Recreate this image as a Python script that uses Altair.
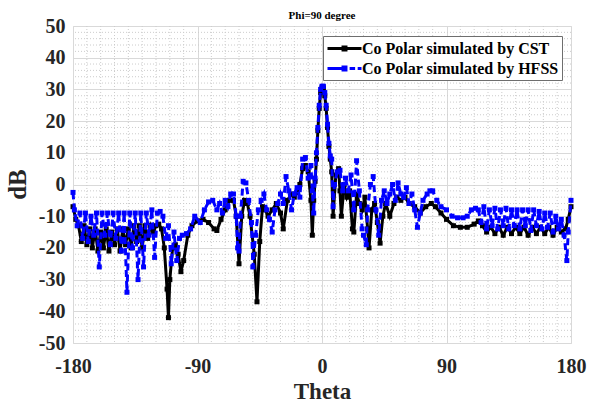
import altair as alt
import pandas as pd

# ---------------- data ----------------
theta_cst = [-180, -178, -176, -174, -172, -170, -168, -166, -164, -162, -160, -158, -156, -154,
             -152, -150, -148, -146, -144, -142, -140, -138, -136, -134, -132, -130, -128, -126,
             -124, -122, -120, -118, -116, -114, -112, -111, -110, -108, -106, -104, -102, -100,
             -97, -94, -90, -86, -82, -78, -76, -73, -70, -67, -64, -62, -60, -58, -56, -54, -52,
             -49, -47, -45, -43, -41, -39, -36, -33, -30, -28, -25, -22, -20, -18, -16, -14, -12,
             -10, -8, -7, -6, -5, -4, -3, -2, -1, 0, 1, 2, 3, 4, 5, 6, 7, 8, 10, 12, 13, 14, 16,
             18, 20, 22, 23, 25, 27, 29, 31, 33, 34, 36, 38, 40, 42, 44, 46, 49, 52, 54, 57, 60,
             63, 67, 71, 75, 79, 82, 86, 90, 95, 100, 105, 110, 113, 116, 119, 122, 125, 128, 131,
             134, 137, 140, 143, 146, 149, 152, 155, 158, 161, 164, 167, 170, 173, 176, 178, 180]
db_cst = [-7, -11, -13, -18, -13, -19, -14, -20, -14, -21, -15, -20, -14, -21,
          -15, -19, -14, -21, -14, -19, -14, -20, -13, -18, -13, -20, -13, -17,
          -13, -15, -13, -12.5, -14, -20, -33, -42, -30, -20, -19, -22, -27.5, -24,
          -16, -13, -11.5, -11, -12, -14, -14.5, -11, -8, -5, -5, -10, -25, -10, -5, -6, -10,
          -22, -37, -18, -7, -8, -10, -8, -6, -9, -14, -5, -3, -4, -2.5, 0, 5, 6,
          4, -5, -16, -5, 1, 8, 17, 24, 29, 30.5, 30.5, 28, 24, 18, 12, 8, 4, -10, 3, 5, -2, -10, 0,
          -4, -2, -14, -15, -3, -6, -8, -4, -14, -20, -8, -6, -12, -18.5, -10, -6, -10, -6, -4, -5, -4,
          -6, -7, -9, -7, -6, -7, -9, -11, -13, -13.5, -13.5, -12.5, -11.5, -13, -15, -13.5, -15.5, -13.5, -16,
          -13.5, -15.5, -13.5, -15.5, -13.5, -16, -13.5, -15.5, -13.5, -15.5, -13.5, -16, -13.5, -15, -14, -11, -7]

theta_hfss = [-180, -179, -177, -175, -173, -171, -169, -167, -165, -163, -161, -159, -157, -155,
              -153, -151, -149, -147, -145, -143, -141, -139, -137, -135, -133, -131, -129, -127,
              -125, -123, -121, -119, -117, -115, -113, -111, -109, -107, -105, -103, -101, -98,
              -95, -92, -88, -85, -82, -79, -76, -74, -72, -70, -68, -66, -64, -62, -61, -60, -59,
              -57, -55, -53, -51, -50, -48, -46, -44, -42, -40, -38, -36, -34, -32, -30, -28, -26,
              -24, -22, -20, -18, -16, -14, -12, -10, -8, -7, -6, -5, -4, -3, -2, -1, 0, 1, 2, 3,
              4, 5, 6, 7, 8, 9, 11, 13, 15, 17, 19, 21, 23, 25, 27, 29, 30, 32, 33, 35, 37, 39, 41,
              43, 45, 47, 49, 51, 53, 55, 57, 59, 61, 63, 65, 67, 69, 71, 73, 76, 78, 80, 83, 86,
              90, 94, 98, 102, 105, 108, 111, 113, 115, 117, 119, 121, 123, 125, 127, 129, 131, 133,
              135, 137, 139, 141, 143, 145, 147, 149, 151, 153, 155, 157, 159, 161, 163, 165, 167,
              169, 171, 173, 175, 177, 178, 180]
db_hfss = [-2.5, -8, -13, -9, -17, -9, -18, -10, -16, -9, -26, -9, -16, -9,
           -19, -9, -17, -9, -21, -9, -34, -9, -20, -9, -30, -9, -26, -9,
           -16, -8, -23, -9, -8.5, -10, -17, -13, -25, -15, -24, -17, -16, -15.5,
           -14, -10, -12, -8, -5.5, -5, -8, -6, -9, -5, -7, -3, -3, -10, -20, -21, -10,
           1, 0.5, -5, -12, -26, -16, -8, -5, -3, -8, -11, -15, -8, -6, -3, -6, 2.5,
           -2, -8, -3, -1, -4, 8, 8.5, 2, 6, -2, -9, 2, 10, 18, 25, 30, 31, 31, 29, 25,
           19, 13, 9, 8, -7, 0, 4, 4.5, -2, 2, -2, 3, -8, 7.5, -2, -14, -16, -19, -8, 0, 2.5, -8, -16,
           -5, -2, -6, -3, 0, -5, 0.5, -3, -4, -1, -6, -3, -8, -13.5, -9, -5, -3, -2, -2, -5, -7,
           -8, -10, -10.5, -10.5, -10, -8, -7.5, -8, -12, -7, -14, -8, -13, -7.5, -14, -8, -13, -7.5,
           -14, -8, -13, -8, -14, -8, -13, -8, -14.5, -8, -13, -8.5, -14, -9, -13.5, -9, -15,
           -10, -14, -11, -16, -24, -15, -5]

series_names = ["Co Polar simulated by CST", "Co Polar simulated by HFSS"]
series_colors = ["#000000", "#0000ff"]

x_major = [-180, -90, 0, 90, 180]
y_major = list(range(-50, 51, 10))
x_minor = [v for v in range(-170, 180, 10) if v % 90]
y_minor = [v for v in range(-48, 50, 2) if v % 10]

assert len(theta_cst) == len(db_cst)
assert len(theta_hfss) == len(db_hfss)

df_cst = pd.DataFrame({"theta": theta_cst, "dB": db_cst, "series": series_names[0]})
df_hfss = pd.DataFrame({"theta": theta_hfss, "dB": db_hfss, "series": series_names[1]})
df_all = pd.concat([df_cst, df_hfss], ignore_index=True)

# ---------------- styling ----------------
FONT = "Liberation Serif"
TXT = "#262626"

xscale = alt.Scale(domain=[-180, 180], nice=False, zero=False)
yscale = alt.Scale(domain=[-50, 50], nice=False, zero=False)

xaxis = alt.Axis(values=x_major, labelExpr="'' + datum.value", labelFont=FONT, labelFontSize=20,
                 labelFontWeight="bold", labelColor=TXT, labelPadding=13, labelFlush=False,
                 labelOverlap=False, ticks=False, tickSize=0, domain=False, grid=True,
                 gridColor="#d9d9d9", gridWidth=1, titleFont=FONT, titleFontSize=23,
                 titleFontWeight="bold", titleColor=TXT, titlePadding=4)
yaxis = alt.Axis(values=y_major, labelExpr="'' + datum.value", labelFont=FONT, labelFontSize=20,
                 labelFontWeight="bold", labelColor=TXT, labelPadding=8, labelFlush=False,
                 labelOverlap=False, ticks=False, tickSize=0, domain=False, grid=True,
                 gridColor="#d9d9d9", gridWidth=1, titleFont=FONT, titleFontSize=25,
                 titleFontWeight="bold", titleColor=TXT, titleAngle=270, titleX=-48, titleY=158,
                 titleBaseline="alphabetic", titleAlign="center")

X = alt.X("theta:Q", scale=xscale, axis=xaxis, title="Theta")
Y = alt.Y("dB:Q", scale=yscale, axis=yaxis, title="dB")

vgrid = alt.Chart(pd.DataFrame({"theta": x_minor})).mark_rule(
    color="#cccccc", strokeDash=[1, 2], strokeWidth=1).encode(x=X)
hgrid = alt.Chart(pd.DataFrame({"dB": y_minor})).mark_rule(
    color="#cccccc", strokeDash=[1, 2], strokeWidth=1).encode(y=Y)

cst_line = alt.Chart(df_cst).mark_line(color=series_colors[0], strokeWidth=3).encode(x=X, y=Y)
cst_pts = alt.Chart(df_cst).mark_square(color=series_colors[0], size=25, opacity=1).encode(x=X, y=Y)
hfss_line = alt.Chart(df_hfss).mark_line(color=series_colors[1], strokeWidth=3,
                                         strokeDash=[7, 4]).encode(x=X, y=Y)
hfss_pts = alt.Chart(df_hfss).mark_square(color=series_colors[1], size=25, opacity=1).encode(x=X, y=Y)

# legend symbols: line sample with a square marker in the middle (unit = 8.5 px)
path_cst = "M-2,-0.17H2V0.17H-2Z M-0.35,-0.35H0.35V0.35H-0.35Z"
path_hfss = ("M-2,-0.17H-0.3V0.17H-2Z M-0.35,-0.35H0.35V0.35H-0.35Z "
             "M0.6,-0.17H1.25V0.17H0.6Z M1.55,-0.17H2V0.17H1.55Z")

leg = alt.Legend(title=None, orient="none", legendX=250, legendY=10, symbolSize=289,
                 symbolOffset=9, labelOffset=8,
                 labelFont=FONT, labelFontSize=16, labelFontWeight="bold", labelColor="#000000",
                 fillColor="#ffffff", strokeColor="#6e6e6e", padding=3, rowPadding=2,
                 labelLimit=400)

legend_layer = alt.Chart(df_all).mark_point(filled=True, opacity=1).encode(
    x=X, y=Y,
    color=alt.Color("series:N", scale=alt.Scale(domain=series_names, range=series_colors), legend=leg),
    shape=alt.Shape("series:N", scale=alt.Scale(domain=series_names, range=[path_cst, path_hfss]), legend=leg),
).transform_filter("datum.theta > 1000")

chart = alt.layer(vgrid, hgrid, cst_line, cst_pts, hfss_line, hfss_pts, legend_layer).properties(
    width=498, height=317,
    title=alt.Title("Phi=90 degree", font=FONT, fontSize=11, fontWeight="bold", color="#000000",
                    anchor="middle", offset=5, frame="group", dy=10),
    autosize=alt.AutoSizeParams(type="none"),
    padding={"left": 73, "top": 26, "right": 19, "bottom": 60},
).configure_view(stroke="#808080", strokeWidth=1).configure(background="#ffffff").configure_axis(
    labelFont=FONT, titleFont=FONT, labelFontWeight="bold", titleFontWeight="bold")

chart.save("out.html", embed_options={"renderer": "svg", "actions": False})
